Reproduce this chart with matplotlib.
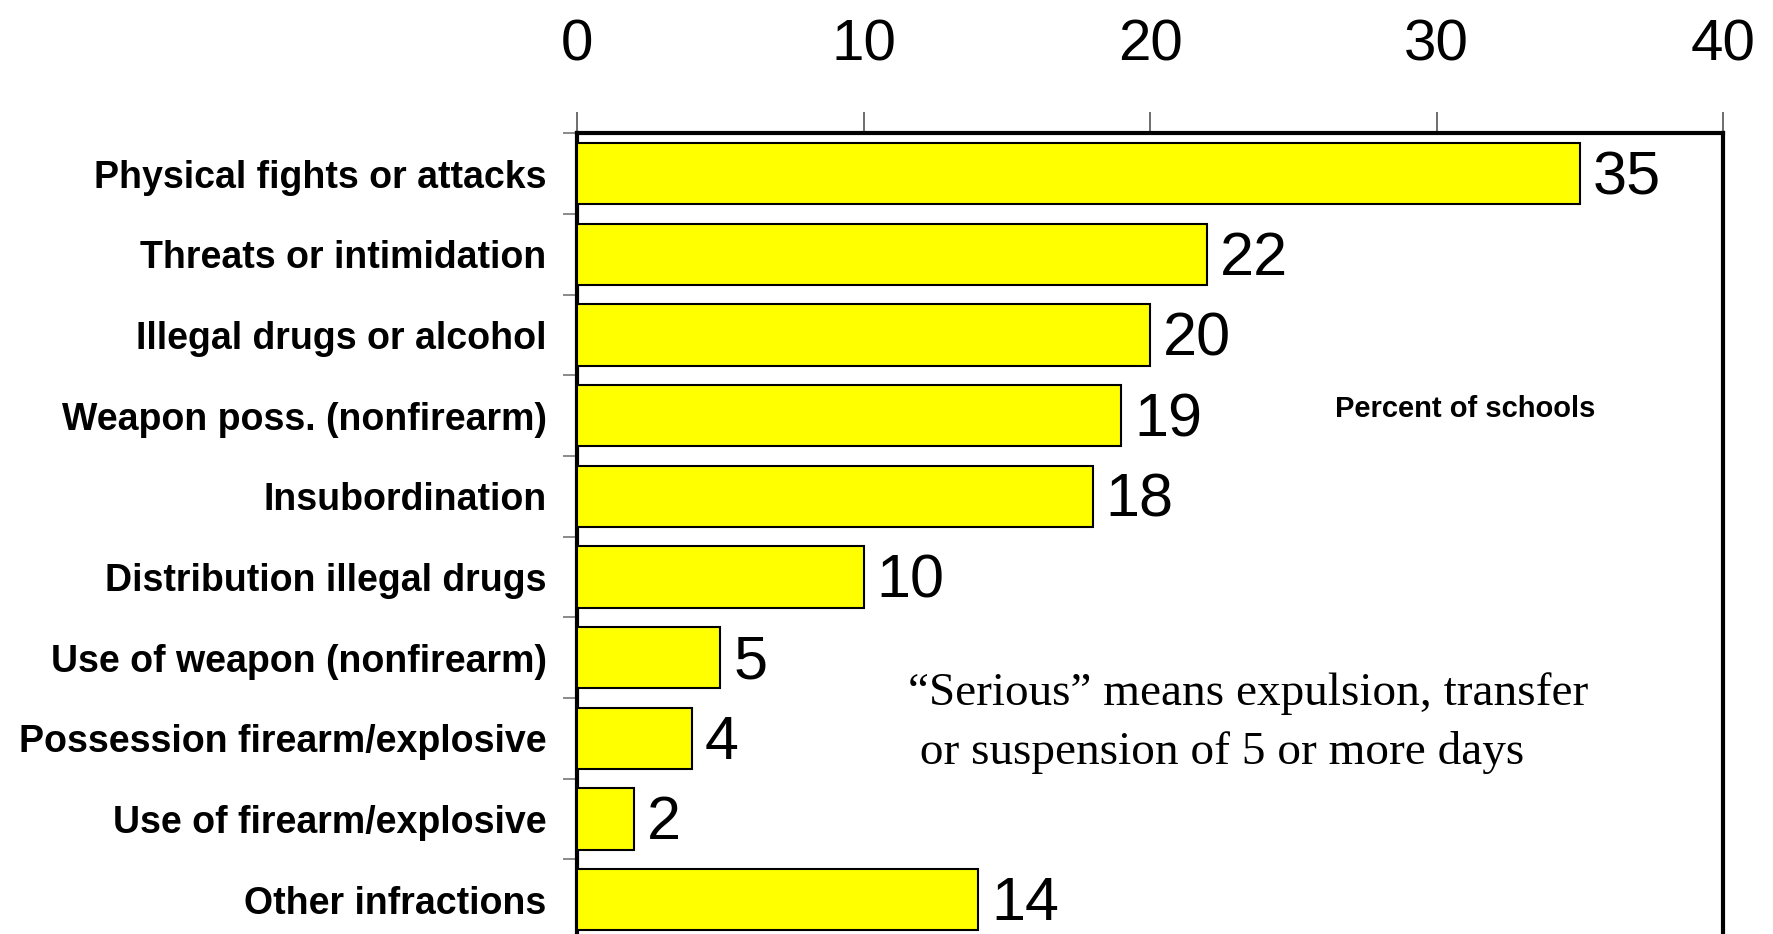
import matplotlib
matplotlib.use("Agg")
import matplotlib.pyplot as plt
import numpy as np

categories = [
    "Physical fights or attacks",
    "Threats or intimidation",
    "Illegal drugs or alcohol",
    "Weapon poss. (nonfirearm)",
    "Insubordination",
    "Distribution illegal drugs",
    "Use of weapon (nonfirearm)",
    "Possession firearm/explosive",
    "Use of firearm/explosive",
    "Other infractions",
]
values = [35, 22, 20, 19, 18, 10, 5, 4, 2, 14]
x_ticks = [0, 10, 20, 30, 40]
axis_label = "Percent of schools"
note_lines = ["\u201cSerious\u201d means expulsion, transfer",
              " or suspension of 5 or more days"]

fig = plt.figure(figsize=(17.74, 9.34), dpi=100)
ax = fig.add_axes([0.3253, -0.0064, 0.6460, 0.8635])

y = np.arange(len(categories))
ax.barh(y, values, height=0.76, color="#FFFF00", edgecolor="black", linewidth=1.5, zorder=3)
ax.set_xlim(0, 40)
ax.set_ylim(len(categories) - 0.5, -0.5)

# top x axis
ax.xaxis.tick_top()
ax.set_xticks(x_ticks)
ax.set_xticklabels([str(t) for t in x_ticks], fontsize=42, family="Liberation Sans")
ax.tick_params(axis="x", which="major", direction="out", length=15, width=1.2,
               color="#555555", pad=29)

# y ticks at category boundaries, labels at centers
ax.set_yticks(y)
ax.set_yticklabels(categories, fontsize=27, fontweight="bold", family="Liberation Sans")
ax.tick_params(axis="y", which="major", length=0, pad=22)
ax.set_yticks(np.arange(-0.5, len(categories) - 0.5, 1.0), minor=True)
ax.tick_params(axis="y", which="minor", direction="out", length=10, width=1.2, color="#777777")

for s in ["top", "left", "right"]:
    ax.spines[s].set_linewidth(3)
    ax.spines[s].set_color("black")
ax.spines["bottom"].set_visible(False)

for yi, v in zip(y, values):
    ax.text(v + 0.45, yi + 0.06, str(v), va="center", ha="left", fontsize=44,
            family="Liberation Sans", zorder=4)

ax.text(31.0, 2.92, axis_label, ha="center", va="center", fontsize=21,
        fontweight="bold", family="Liberation Sans")

ax.text(11.55, 6.45, note_lines[0], ha="left", va="center", fontsize=34,
        family="Liberation Serif")
ax.text(11.55, 7.17, note_lines[1], ha="left", va="center", fontsize=34,
        family="Liberation Serif")

fig.savefig("out.png", dpi=100)
